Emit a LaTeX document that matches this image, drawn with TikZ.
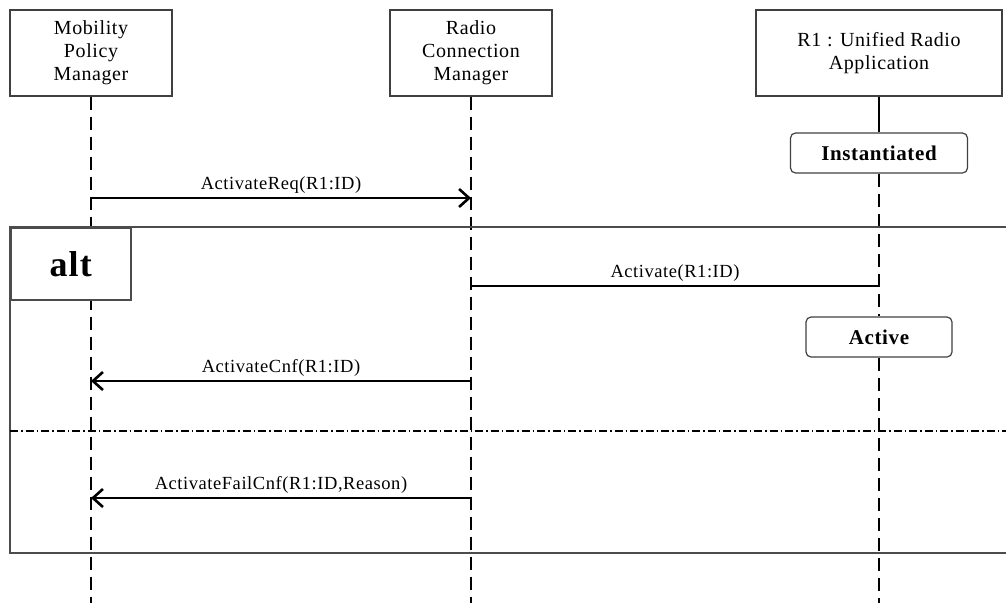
\documentclass[tikz,border=0pt]{standalone}
\usepackage{fontspec}
\setmainfont{Liberation Serif}[LetterSpace=3]
\usetikzlibrary{arrows.meta, positioning}

\begin{document}
\begin{tikzpicture}[x=1pt, y=-1pt]
    % Define styles
    \tikzstyle{object} = [rectangle, draw=black!75, line width=1.2pt, fill=white, minimum width=162pt, minimum height=86pt, align=center, inner sep=2pt, font=\fontsize{20}{23}\selectfont]
    \tikzstyle{statebox} = [rectangle, rounded corners=5pt, draw=black!75, line width=1.2pt, fill=white, minimum height=40pt, font=\fontsize{21}{24}\selectfont\bfseries]
    \tikzstyle{lifeline} = [line width=1.2pt, dash pattern=on 13pt off 7pt]
    \tikzstyle{frame} = [draw=black!70, line width=1.5pt]
    \tikzstyle{separator} = [line width=1.2pt, dash pattern=on 8pt off 3pt on 1.5pt off 3pt]
    \tikzstyle{msg} = [line width=2.6pt, -{Straight Barb[length=10pt, width=18pt]}]
    \tikzstyle{msglabel} = [above, inner sep=3pt, font=\fontsize{18.5}{21}\selectfont]

    \useasboundingbox (0,0) rectangle (1006,603);

    % Lifeline heads
    \node[object] (mpm) at (91,53) {Mobility\\Policy\\Manager};
    \node[object] (rcm) at (471,53) {Radio\\Connection\\Manager};
    \node[object, minimum width=246pt] (ura) at (879,53) {R1 : Unified Radio\\Application};

    % States of R1
    \node[statebox, minimum width=177pt] (inst) at (879,153) {Instantiated};
    \node[statebox, minimum width=146pt] (active) at (879,337) {Active};

    % Lifeline ends
    \coordinate (mpm-end) at (91,603);
    \coordinate (rcm-end) at (471,603);
    \coordinate (ura-end) at (879,603);

    % Lifelines
    \draw[lifeline] (mpm) -- (mpm-end);
    \draw[lifeline] (rcm) -- (rcm-end);
    \draw[line width=1.2pt] (ura) -- (inst);
    \draw[lifeline] (inst) -- (active);
    \draw[lifeline] (active) -- (ura-end);

    % Combined fragment
    \coordinate (frame-nw) at (10,227);
    \coordinate (frame-se) at (1012,553);
    \draw[frame] (frame-nw) rectangle (frame-se);
    \node[frame, fill=white, anchor=north west, minimum width=120pt, minimum height=72pt, font=\fontsize{36}{38}\selectfont\bfseries] (alt) at (frame-nw) {alt};
    \coordinate (sep-w) at (10,431);
    \coordinate (sep-e) at (1012,431);
    \draw[separator] (sep-w) -- (sep-e);

    % Message points
    \coordinate (req-a) at (91,198);
    \coordinate (req-b) at (471,198);
    \coordinate (act-a) at (471,286);
    \coordinate (act-b) at (879,286);
    \coordinate (cnf-a) at (471,381);
    \coordinate (cnf-b) at (91,381);
    \coordinate (fail-a) at (471,498);
    \coordinate (fail-b) at (91,498);

    % Messages
    \draw[msg] (req-a) -- node[msglabel] {ActivateReq(R1:ID)} (req-b);
    \draw[line width=2.6pt] (act-a) -- node[msglabel] {Activate(R1:ID)} (act-b);
    \draw[msg] (cnf-a) -- node[msglabel] {ActivateCnf(R1:ID)} (cnf-b);
    \draw[msg] (fail-a) -- node[msglabel] {ActivateFailCnf(R1:ID,Reason)} (fail-b);

\end{tikzpicture}
\end{document}
